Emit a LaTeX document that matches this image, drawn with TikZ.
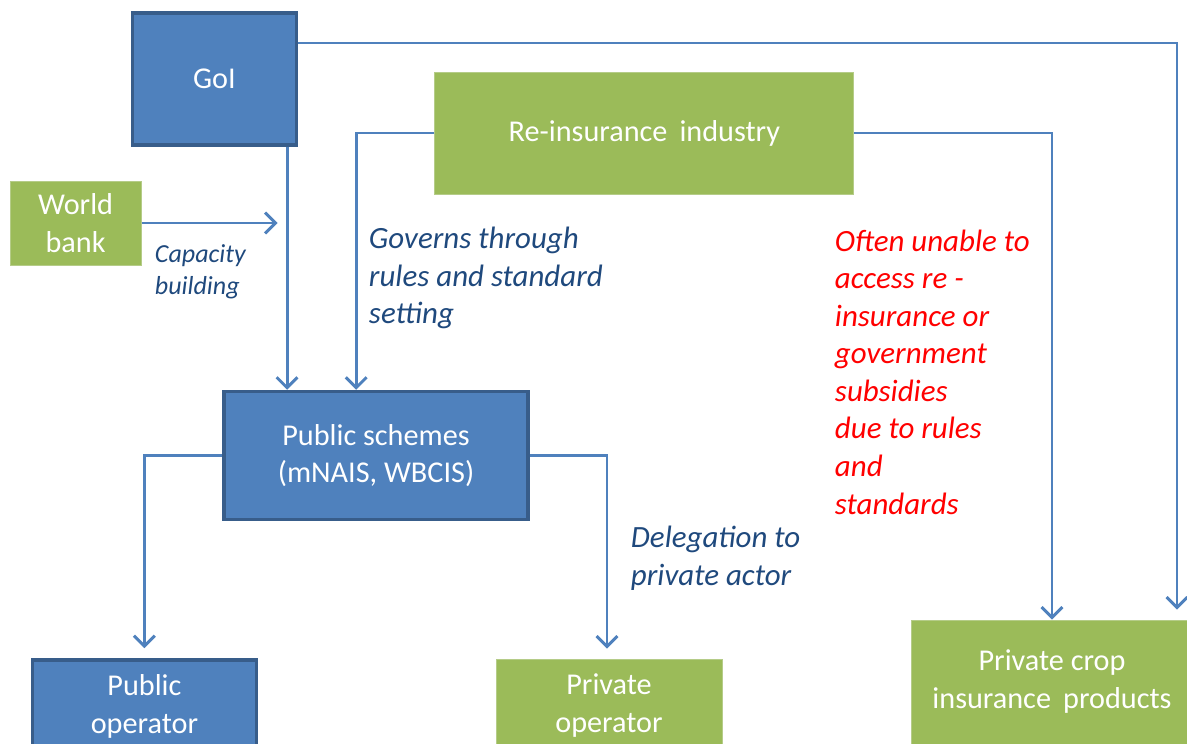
\documentclass[tikz,border=0pt]{standalone}
\usepackage{fontspec}
\setmainfont{Carlito}
\usetikzlibrary{arrows.meta}
\definecolor{boxblue}{HTML}{4F81BD}
\definecolor{rimblue}{HTML}{385D8A}
\definecolor{boxgreen}{HTML}{9BBB59}
\definecolor{rimgreen}{HTML}{B5CC88}
\definecolor{notetext}{HTML}{1F497D}
\begin{document}
\begin{tikzpicture}[
    bluebox/.style={draw=rimblue, line width=2.6pt, fill=boxblue, text=white, align=center,
        font=\fontsize{21.5}{27}\selectfont},
    greenbox/.style={draw=rimgreen, line width=0.6pt, fill=boxgreen, text=white, align=center,
        font=\fontsize{21.5}{27}\selectfont},
    conn/.style={draw=boxblue, line width=2.1pt, -{Straight Barb[length=2.6mm,width=5.2mm,line width=2.1pt]}},
    note/.style={anchor=west, align=left, text=notetext, font=\itshape\fontsize{22}{26.7}\selectfont}]
    \useasboundingbox (0,0) rectangle (29.675,-18.6);
    \clip (0,0) rectangle (29.675,-18.6);

    % the boxes
    \node[bluebox, minimum width=4.1cm, minimum height=3.3cm] (goi) at (5.36,-1.975) {GoI};
    \node[greenbox, minimum width=3.275cm, minimum height=2.1cm] (wb) at (1.89,-5.575) {World\\bank};
    \node[greenbox, minimum width=10.475cm, minimum height=3.05cm] (reins) at (16.11,-3.325)
        {Re-insurance\hspace{0.4em}industry};
    \node[bluebox, minimum width=7.6cm, minimum height=3.2cm] (schemes) at (9.4,-11.39)
        {Public schemes\\(mNAIS, WBCIS)};
    \node[bluebox, minimum width=5.6cm, minimum height=2.3cm] (pubop) at (3.61,-17.65)
        {Public\\operator};
    \node[greenbox, minimum width=5.65cm, minimum height=2.35cm] (privop) at (15.225,-17.65)
        {Private\\operator};
    \node[greenbox, minimum width=7.05cm, minimum height=3.1cm] (crop) at (26.3,-17.05)
        {Private crop\\insurance\hspace{0.4em}products};

    % who acts on whom
    \draw[conn] ([yshift=0.9cm]goi.east) -| ([xshift=3.125cm,yshift=0.25cm]crop.north);
    \draw[conn] ([xshift=-0.28cm]goi.south east) -- ([xshift=-0.28cm]goi.south east |- schemes.north);
    \draw[conn] (wb.east) -- ++(3.4,0) coordinate (wbend);
    \draw[conn] (reins.west) -| ([xshift=3.35cm]schemes.north west);
    \draw[conn] (reins.east) -| (crop.north);
    \draw[conn] (schemes.west) -| ([yshift=0.25cm]pubop.north);
    \draw[conn] (schemes.east) -| ([xshift=-0.05cm,yshift=0.25cm]privop.north);

    % notes
    \node[note, font=\itshape\fontsize{18.5}{22.7}\selectfont] (capac) at (3.75,-6.8)
        {Capacity\\building};
    \node[note] (governs) at (9.1,-6.95) {Governs through\\rules and standard\\setting};
    \node[note, text=red] (unable) at (20.75,-9.3)
        {Often unable to\\access re -\\insurance or\\government\\subsidies\\due to rules\\and\\standards};
    \node[note] (deleg) at (15.65,-13.95) {Delegation to\\private actor};
\end{tikzpicture}
\end{document}
